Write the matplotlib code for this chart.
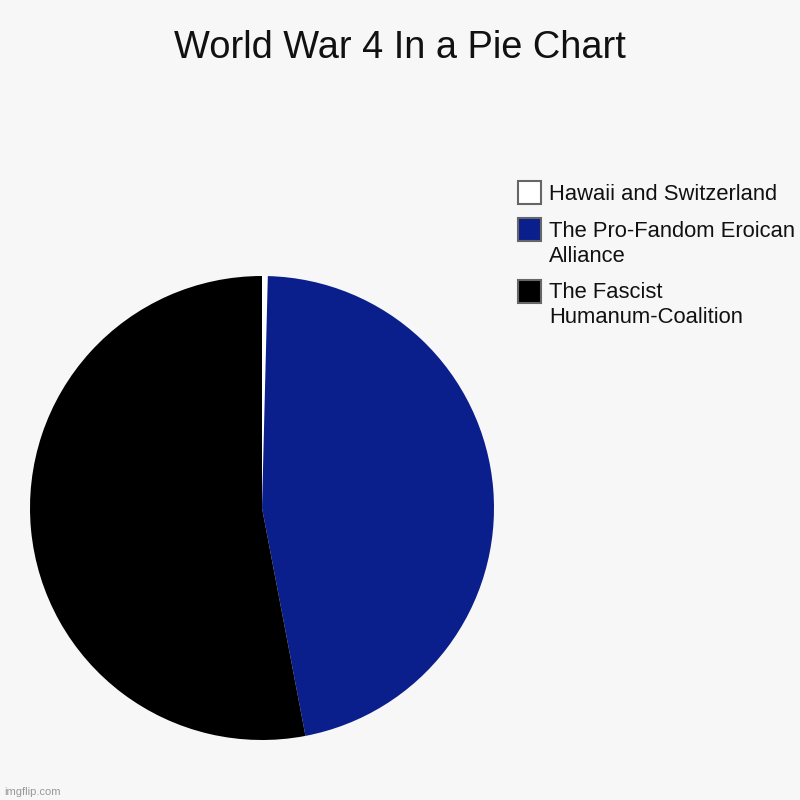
import matplotlib.pyplot as plt
from matplotlib.patches import Rectangle

plt.rcParams['font.family'] = ['Liberation Sans', 'DejaVu Sans']

title = "World War 4 In a Pie Chart"
labels = ["Hawaii and Switzerland",
          "The Pro-Fandom Eroican\nAlliance",
          "The Fascist\nHumanum-Coalition"]
values = [0.4, 46.6, 53.0]
colors = ["#ffffff", "#0a1f8c", "#000000"]
bg = "#f7f7f7"

W = H = 800.0
fig = plt.figure(figsize=(8, 8), dpi=100, facecolor=bg)

ax = fig.add_axes([0.0375, 0.075, 0.58, 0.58])
ax.set_facecolor(bg)
ax.pie(values, colors=colors, startangle=90, counterclock=False,
       wedgeprops={'linewidth': 0})
ax.set_xlim(-1, 1)
ax.set_ylim(-1, 1)
ax.set_aspect('equal')
ax.axis('off')

fig.text(0.5, 1 - 48 / H, title, ha='center', va='center', fontsize=27.4, color='#111111')

# legend drawn by hand so the wrapped labels line up like the reference
box_centers = [192.5, 229.5, 291.0]   # pixel rows from the top
box = 23.0
line_gap = 25.0
for lab, col, yc in zip(labels, colors, box_centers):
    fig.patches.append(Rectangle((518 / W, 1 - (yc + box / 2) / H), box / W, box / H,
                                 transform=fig.transFigure, facecolor=col,
                                 edgecolor='#666666', linewidth=1.5))
    for i, line in enumerate(lab.split('\n')):
        fig.text(549 / W, 1 - (yc + 7.5 + i * line_gap) / H, line, ha='left',
                 va='baseline', fontsize=15.8, color='#111111')

fig.text(4 / W, 1 - 797 / H, "imgflip.com", ha='left', va='bottom', fontsize=8, color='#999999')

fig.savefig('out.png', dpi=100, facecolor=bg)
